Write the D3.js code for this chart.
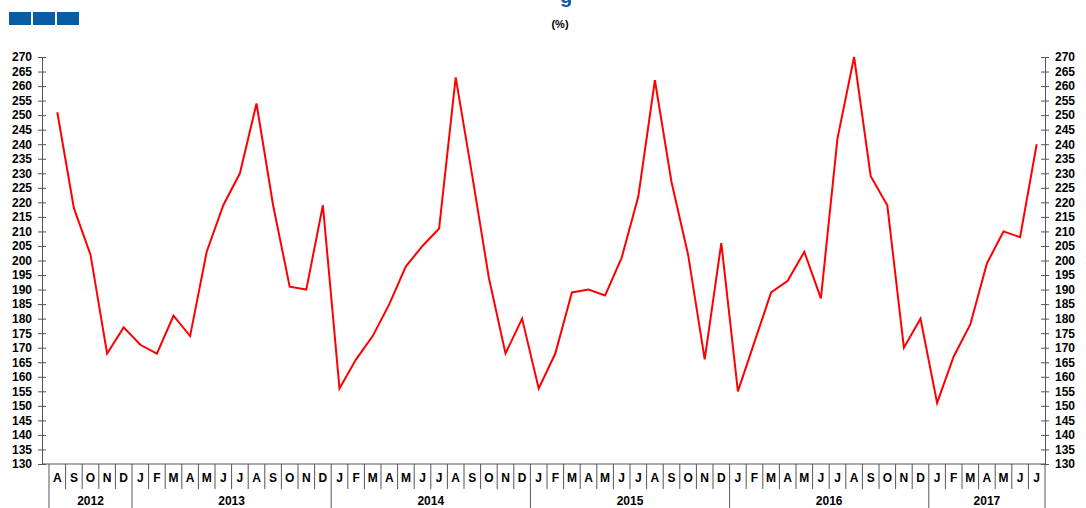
<!DOCTYPE html>
<html><head><meta charset="utf-8">
<script src="https://cdn.jsdelivr.net/npm/d3@7"></script>
<style>body{margin:0;background:#fff}text{font-family:"Liberation Sans",Arial,sans-serif;font-weight:bold}</style>
</head><body>
<script>
var width = 1086, height = 508;
var months = ['A','S','O','N','D',
  'J','F','M','A','M','J','J','A','S','O','N','D',
  'J','F','M','A','M','J','J','A','S','O','N','D',
  'J','F','M','A','M','J','J','A','S','O','N','D',
  'J','F','M','A','M','J','J','A','S','O','N','D',
  'J','F','M','A','M','J','J'];
var values = [251,218,202,168,177,
  171,168,181,174,203,219,230,254,219,191,190,219,
  156,166,174,185,198,205,211,263,229,194,168,180,
  156,168,189,190,188,201,222,262,227,202,166,206,
  155,172,189,193,203,187,242,270,229,219,170,180,
  151,167,178,199,210,208,240];
var years = ['2012','2013','2014','2015','2016','2017'];
var yearStart = [0,5,17,29,41,53], yearEnd = [5,17,29,41,53,60];

var plotLeft = 49, plotRight = 1045, plotTop = 57, plotBottom = 464;
var svg = d3.select('body').append('svg').attr('width', width).attr('height', height);

//Blue logo blocks and title
[0,1,2].forEach(function(i){
  svg.append('rect').attr('x', 9 + i*24).attr('y', 12).attr('width', 22).attr('height', 13).attr('fill', '#0a5ca3');
});
svg.append('text').attr('x', 566).attr('y', 3).attr('text-anchor','middle').attr('fill','#0a5ca3').style('font-size','20px').text('g');
svg.append('text').attr('x', 560).attr('y', 28).attr('text-anchor','middle').style('font-size','11px').text('(%)');

var x = d3.scaleBand().domain(d3.range(values.length)).range([plotLeft, plotRight]);
var y = d3.scaleLinear().domain([130, 270]).range([plotBottom, plotTop]);
var ticks = d3.range(130, 271, 5);

svg.append('g').attr('transform','translate(42,0)')
  .call(d3.axisLeft(y).tickValues(ticks).tickSize(4).tickSizeOuter(0))
  .call(function(g){ g.selectAll('text').style('font-size','12px').attr('fill','#000').attr('x',-10); g.selectAll('line').attr('x2',4).attr('x1',-4).attr('stroke','#555'); g.select('.domain').attr('stroke','#555'); });
svg.append('g').attr('transform','translate(' + plotRight + ',0)')
  .call(d3.axisRight(y).tickValues(ticks).tickSize(4).tickSizeOuter(0))
  .call(function(g){ g.selectAll('text').style('font-size','12px').attr('fill','#000').attr('x',10); g.selectAll('line').attr('x1',-4).attr('x2',4).attr('stroke','#555'); g.select('.domain').attr('stroke','#555'); });

//baseline
svg.append('line').attr('x1',42).attr('x2',plotRight).attr('y1',plotBottom).attr('y2',plotBottom).attr('stroke','#555');

//month dividers and labels
var axis = svg.append('g');
d3.range(values.length + 1).forEach(function(i){
  var xx = i < values.length ? x(i) : plotRight;
  var isYear = yearStart.indexOf(i) >= 0 || i === values.length;
  axis.append('line').attr('x1',xx).attr('x2',xx).attr('y1',plotBottom).attr('y2', isYear ? height : 489).attr('stroke','#555');
});
axis.selectAll('.m').data(months).enter().append('text')
  .attr('x', function(d,i){ return x(i) + x.bandwidth()/2; }).attr('y', 482)
  .attr('text-anchor','middle').style('font-size','12px').text(function(d){ return d; });
axis.selectAll('.yr').data(years).enter().append('text')
  .attr('x', function(d,i){ return (x(yearStart[i]) + (yearEnd[i] < values.length ? x(yearEnd[i]) : plotRight)) / 2; })
  .attr('y', 505).attr('text-anchor','middle').style('font-size','12px').text(function(d){ return d; });

var line = d3.line().x(function(d,i){ return x(i) + x.bandwidth()/2; }).y(function(d){ return y(d); });
svg.append('path').datum(values).attr('d', line).attr('fill','none').attr('stroke','#ff0000').attr('stroke-width',2);
</script>
</body></html>
